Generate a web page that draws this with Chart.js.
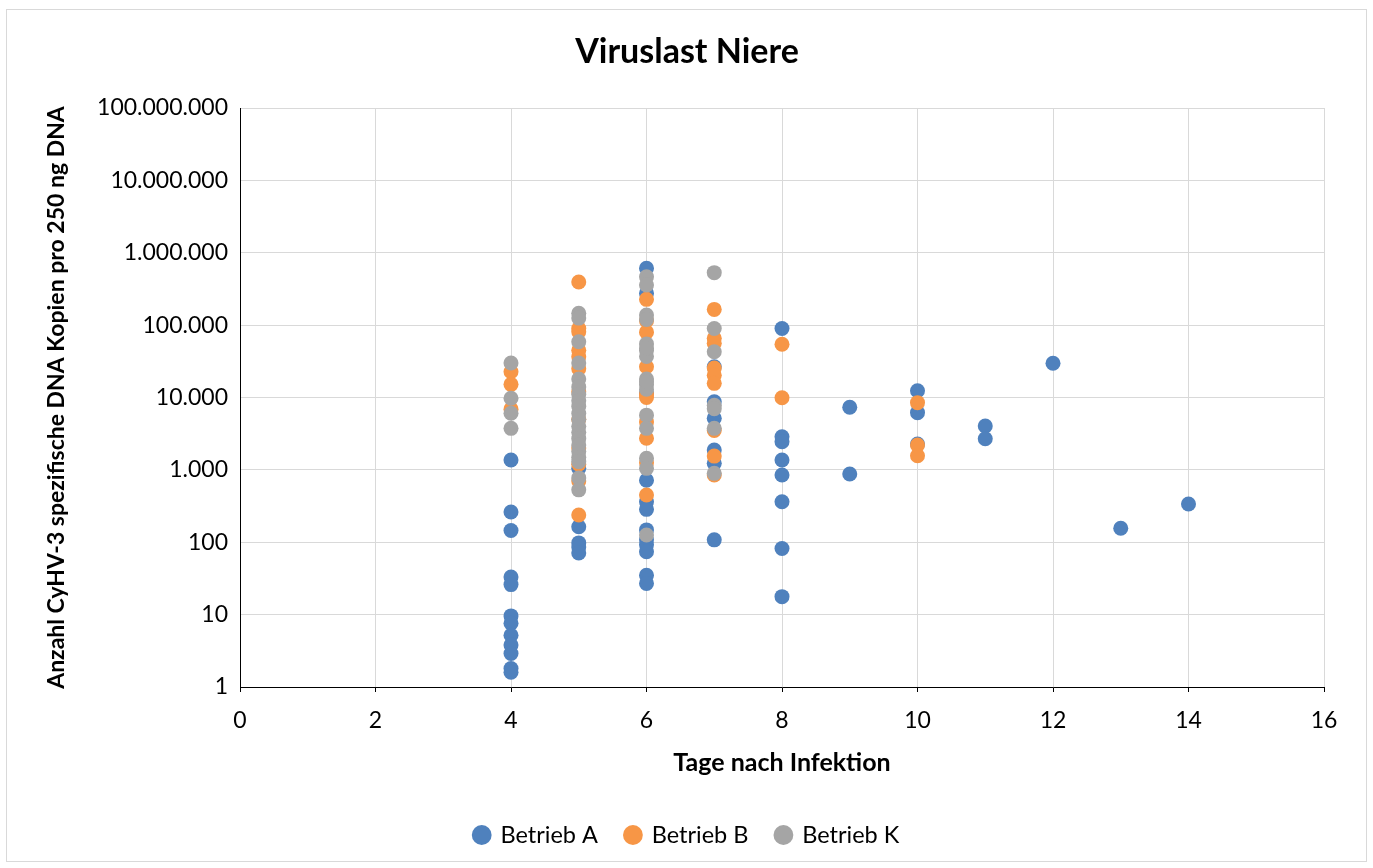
<!DOCTYPE html>
<html>
<head>
<meta charset="utf-8">
<style>
  html, body { margin: 0; padding: 0; background: #fff; }
  canvas { display: block; }
</style>
<script src="https://cdn.jsdelivr.net/npm/chart.js@4/dist/chart.umd.min.js"></script>
</head>
<body>
<canvas id="virus-chart" width="1373" height="868"></canvas>
<script>
// Betrieb A (blau)
const daysA = [4, 4, 4, 4, 4, 4, 4, 4, 4, 4, 4, 4,
  5, 5, 5, 5, 5,
  6, 6, 6, 6, 6, 6, 6, 6, 6, 6, 6, 6,
  7, 7, 7, 7, 7, 7,
  8, 8, 8, 8, 8, 8, 8, 8,
  9, 9, 10, 10, 10, 11, 11, 12, 13, 14];
const valuesA = [1370, 262, 145, 33, 26, 9.6, 7.6, 5.2, 3.8, 2.9, 1.8, 1.6,
  1050, 164, 98, 86, 71,
  610000, 275000, 11500, 720, 363, 285, 148, 108, 92, 74, 35, 27,
  26600, 8750, 5160, 1880, 1230, 108,
  90000, 2870, 2450, 1370, 850, 363, 82, 17.7,
  7330, 877, 12400, 6170, 2270, 4040, 2690, 29700, 156, 337];

// Betrieb B (orange)
const daysB = [4, 4, 4,
  5, 5, 5, 5, 5, 5, 5, 5, 5, 5, 5, 5,
  6, 6, 6, 6, 6, 6, 6, 6, 6, 6,
  7, 7, 7, 7, 7, 7, 7, 7, 7,
  8, 8, 10, 10, 10];
const valuesB = [22700, 15200, 6900,
  394000, 90000, 81000, 45000, 36600, 25000, 12000, 5000, 2000, 1200, 700, 238,
  227000, 115000, 80000, 26600, 11000, 10000, 4600, 2730, 1250, 450,
  165000, 65800, 56000, 25500, 20300, 15700, 3500, 1550, 850,
  54400, 9900, 8490, 2200, 1570];

// Betrieb K (grau)
const daysK = [4, 4, 4, 4,
  5, 5, 5, 5, 5, 5, 5, 5, 5, 5, 5, 5, 5, 5, 5, 5, 5, 5, 5, 5,
  6, 6, 6, 6, 6, 6, 6, 6, 6, 6, 6, 6, 6, 6, 6, 6, 6,
  7, 7, 7, 7, 7, 7, 7];
const valuesK = [30000, 9750, 6050, 3750,
  146000, 125000, 59000, 30000, 18000, 14000, 11000, 9000, 7500, 6000, 5000, 4000,
  3300, 2700, 2200, 1800, 1500, 1300, 775, 530,
  467000, 358000, 138000, 120000, 55000, 45000, 37000, 18000, 15000, 13000,
  5700, 3750, 1450, 1050, 126, 16500, 48000,
  531000, 90000, 42900, 7800, 7000, 3750, 895];

const yTicks = [1, 10, 100, 1000, 10000, 100000, 1000000, 10000000, 100000000];
const yTickLabels = ["1", "10", "100", "1.000", "10.000", "100.000",
  "1.000.000", "10.000.000", "100.000.000"];

const toPoints = (days, values) => days.map((d, i) => ({ x: d, y: values[i] }));

const FONT = "Lato, 'Open Sans', sans-serif";

// Rahmen um das Diagramm
const frame = {
  id: "frame",
  beforeDraw(chart) {
    const ctx = chart.ctx;
    ctx.save();
    ctx.fillStyle = "#fff";
    ctx.fillRect(0, 0, chart.width, chart.height);
    ctx.strokeStyle = "#D9D9D9";
    ctx.lineWidth = 1;
    ctx.strokeRect(6.5, 9.5, 1360, 852);
    ctx.restore();
  },
};

new Chart(document.getElementById("virus-chart"), {
  type: "scatter",
  data: {
    datasets: [
      {
        label: "Betrieb A",
        data: toPoints(daysA, valuesA),
        backgroundColor: "#4F81BD",
        order: 2,
      },
      {
        label: "Betrieb B",
        data: toPoints(daysB, valuesB),
        backgroundColor: "#F79646",
        order: 1,
      },
      {
        label: "Betrieb K",
        data: toPoints(daysK, valuesK),
        backgroundColor: "#A5A5A5",
        order: 0,
      },
    ],
  },
  options: {
    responsive: false,
    animation: false,
    layout: { padding: { left: 50, right: 49, top: 20, bottom: 11.25 } },
    elements: {
      point: { radius: 7.5, hoverRadius: 7.5, borderWidth: 0, pointStyle: "circle" },
    },
    plugins: {
      title: {
        display: true,
        text: "Viruslast Niere",
        color: "#000",
        font: { family: FONT, size: 34, weight: "bold" },
        padding: { top: 11.6, bottom: 35.6 },
      },
      legend: {
        position: "bottom",
        labels: {
          usePointStyle: true,
          pointStyle: "circle",
          boxWidth: 14,
          boxHeight: 14,
          padding: 28,
          color: "#000",
          font: { family: FONT, size: 23.5 },
          sort: (a, b) => a.datasetIndex - b.datasetIndex,
        },
      },
      tooltip: { enabled: false },
    },
    scales: {
      x: {
        type: "linear",
        min: 0,
        max: 16,
        ticks: {
          stepSize: 2,
          padding: 15,
          color: "#000",
          font: { family: FONT, size: 23 },
        },
        grid: { color: "#D9D9D9", tickColor: "#000", tickLength: 5 },
        border: { color: "#000", width: 1 },
        title: {
          display: true,
          text: "Tage nach Infektion",
          color: "#000",
          font: { family: FONT, size: 25, weight: "bold" },
          padding: { top: 0, bottom: 17.3 },
        },
        afterFit: (scale) => { scale.height = 108.25; },
      },
      y: {
        type: "logarithmic",
        min: 1,
        max: 100000000,
        afterBuildTicks: (scale) => {
          scale.ticks = yTicks.map((v) => ({ value: v }));
        },
        ticks: {
          padding: 12,
          color: "#000",
          font: { family: FONT, size: 23 },
          callback: (value, index) => yTickLabels[index],
        },
        grid: { color: "#D9D9D9", drawTicks: false },
        border: { color: "#000", width: 1 },
        title: {
          display: true,
          text: "Anzahl CyHV-3 spezifische DNA Kopien pro 250 ng DNA",
          color: "#000",
          font: { family: FONT, size: 23, weight: "bold" },
          padding: { top: -6.8, bottom: 0 },
        },
        afterFit: (scale) => { scale.width = 190; },
      },
    },
  },
  plugins: [frame],
});
</script>
</body>
</html>
